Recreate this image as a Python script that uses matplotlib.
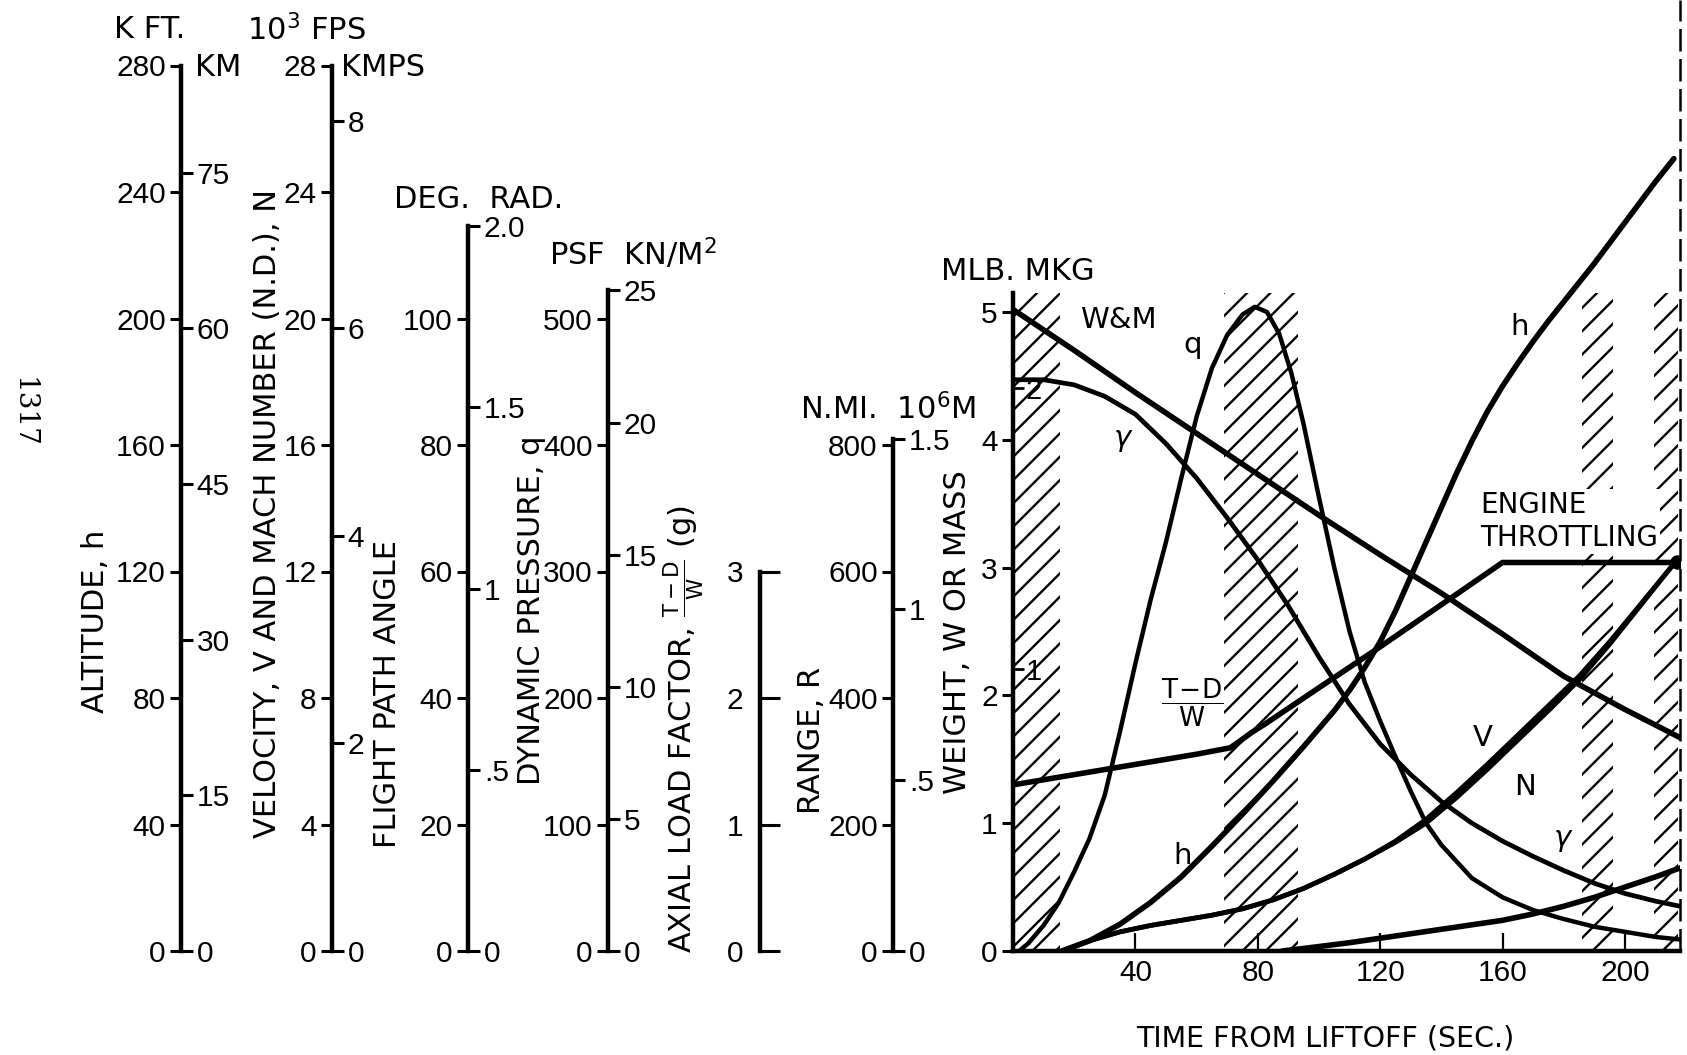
import matplotlib
matplotlib.use("Agg")
import matplotlib.pyplot as plt
import numpy as np

# values; the main plot uses the common "scale unit"
# (1 unit = 40 kft = 4 kfps = 20 deg = 100 psf = 1 g = 200 n.mi. = 1 Mlb)
time_w = [0, 20, 40, 60, 80, 100, 120, 140, 160, 180, 200, 218]
weight = [5.02, 4.70, 4.37, 4.05, 3.73, 3.41, 3.10, 2.80, 2.48, 2.15, 1.89, 1.67]

time_gamma = [0, 10, 20, 30, 40, 50, 60, 70, 80, 90, 100, 110, 120, 130, 140,
              150, 160, 170, 180, 190, 200, 210, 218]
gamma = [4.47, 4.47, 4.43, 4.34, 4.2, 3.97, 3.7, 3.39, 3.06, 2.7, 2.3, 1.93, 1.62,
         1.38, 1.17, 1.0, 0.86, 0.74, 0.63, 0.53, 0.45, 0.39, 0.35]

time_q = [2, 5, 10, 15, 20, 25, 30, 35, 40, 45, 50, 55, 60, 65, 70, 75, 79, 83, 87,
          91, 95, 100, 105, 110, 115, 120, 125, 130, 135, 140, 150, 160, 170, 180,
          190, 200, 210, 218]
q = [0, 0.06, 0.2, 0.38, 0.62, 0.88, 1.22, 1.72, 2.25, 2.75, 3.2, 3.7, 4.18, 4.56,
     4.82, 4.98, 5.04, 5.0, 4.83, 4.52, 4.12, 3.55, 3.0, 2.5, 2.1, 1.8, 1.52, 1.25,
     1.0, 0.83, 0.57, 0.42, 0.32, 0.25, 0.19, 0.15, 0.11, 0.09]

time_h = [16, 25, 35, 45, 55, 65, 75, 85, 95, 105, 110, 115, 120, 125, 130, 135,
          140, 145, 150, 155, 160, 165, 170, 175, 180, 185, 190, 195, 200, 205, 210, 216]
h = [0, 0.08, 0.21, 0.38, 0.58, 0.82, 1.07, 1.33, 1.6, 1.88, 2.04, 2.22, 2.42, 2.66,
     2.93, 3.2, 3.47, 3.74, 3.99, 4.22, 4.42, 4.6, 4.77, 4.93, 5.08, 5.23, 5.38,
     5.54, 5.70, 5.86, 6.02, 6.2]

time_v = [16, 25, 35, 45, 55, 65, 75, 85, 95, 105, 115, 125, 135, 145, 155, 165,
          175, 185, 195, 205, 217]
velocity = [0, 0.08, 0.15, 0.2, 0.24, 0.28, 0.33, 0.4, 0.49, 0.6, 0.72, 0.85, 1.0,
            1.2, 1.42, 1.65, 1.88, 2.12, 2.4, 2.7, 3.06]
mach = [0, 0.08, 0.15, 0.2, 0.24, 0.28, 0.33, 0.4, 0.49, 0.6, 0.72, 0.86, 1.03,
        1.24, 1.46, 1.69, 1.92, 2.15, 2.42, 2.71, 3.06]

time_r = [88, 95, 100, 110, 120, 130, 140, 150, 160, 170, 180, 190, 200, 210, 218]
range_r = [0, 0.02, 0.035, 0.065, 0.1, 0.135, 0.17, 0.205, 0.24, 0.29, 0.35, 0.42,
           0.5, 0.58, 0.65]

time_td = [0, 20, 40, 60, 71, 74, 78, 82, 100, 120, 140, 160, 217]
thrust_drag = [1.3, 1.38, 1.46, 1.54, 1.59, 1.64, 1.71, 1.77, 2.06, 2.38, 2.71, 3.04, 3.04]

hatch_start = [0, 69, 186, 209.5]
hatch_end = [15.5, 93, 196, 217.5]
hatch_top = 5.15

# sheet geometry in pixels; sizes below are given as points at 100 dpi
# and scaled by P, the figure is drawn at 140 dpi so the hatching is sparser
W_PX, H_PX = 1687, 1055
DPI = 140
P = 100 / DPI
BASE = 951
LEFT_PX_UNIT = 126.5
MAIN_PX_UNIT = 127.8

plt.rcParams['font.family'] = ['DejaVu Sans']
plt.rcParams['mathtext.fontset'] = 'dejavusans'
plt.rcParams['hatch.linewidth'] = 1.7 * P
plt.rcParams['hatch.color'] = 'black'
NUM_FONT = 'Liberation Sans'

fig = plt.figure(figsize=(W_PX / DPI, H_PX / DPI), dpi=DPI)


def fx(x):
    return x / W_PX


def fy(y):
    return 1 - y / H_PX


TICK = dict(direction='out', length=8 * P, width=2.2 * P, labelsize=21.5 * P, pad=3 * P)


def scale(xpix, unit, top, ticks, labels=None, funcs=None, sec_ticks=None,
          sec_labels=None, right_ticks=False):
    ax = fig.add_axes([fx(xpix), fy(BASE), 0.5 / W_PX, BASE / H_PX])
    ax.patch.set_visible(False)
    ax.set_xlim(0, 1)
    ax.set_ylim(0, BASE / LEFT_PX_UNIT * unit)
    ax.set_xticks([])
    for s in ('top', 'right', 'bottom'):
        ax.spines[s].set_visible(False)
    ax.spines['left'].set_bounds(0, top)
    ax.spines['left'].set_linewidth(3.2 * P)
    ax.set_yticks(ticks, labels=labels)
    ax.tick_params(axis='y', labelfontfamily=NUM_FONT, **TICK)
    if right_ticks:
        ax.tick_params(axis='y', left=False, right=True, labelleft=True,
                       labelright=False, length=14 * P, pad=-2 * P)
    if funcs is not None:
        sec = ax.secondary_yaxis('right', functions=funcs)
        sec.set_yticks(sec_ticks, labels=sec_labels)
        sec.tick_params(axis='y', labelfontfamily=NUM_FONT, **TICK)
        sec.spines['right'].set_visible(False)
    return ax


# altitude
scale(181, 40, 280, list(range(0, 281, 40)),
      funcs=(lambda x: x * 0.3048, lambda x: x / 0.3048),
      sec_ticks=[0, 15, 30, 45, 60, 75])
# velocity / mach number
scale(332, 4, 28, list(range(0, 29, 4)),
      funcs=(lambda x: x * 0.3048, lambda x: x / 0.3048),
      sec_ticks=[0, 2, 4, 6, 8])
# flight path angle
scale(468, 20, np.degrees(2.0), list(range(0, 101, 20)),
      funcs=(np.deg2rad, np.rad2deg),
      sec_ticks=[0, 0.5, 1, 1.5, 2.0], sec_labels=['0', '.5', '1', '1.5', '2.0'])
# dynamic pressure
scale(608, 100, 25 / 0.04788, list(range(0, 501, 100)),
      funcs=(lambda x: x * 0.04788, lambda x: x / 0.04788),
      sec_ticks=[0, 5, 10, 15, 20, 25])
# axial load factor
scale(760, 1, 3, [0, 1, 2, 3], right_ticks=True)
# range
scale(893, 200, 1.5e6 / 1852, [0, 200, 400, 600, 800],
      funcs=(lambda x: x * 0.001852, lambda x: x / 0.001852),
      sec_ticks=[0, 0.5, 1, 1.5], sec_labels=['0', '.5', '1', '1.5'])

# ---- main time history plot ----
ax = fig.add_axes([fx(1013), fy(BASE), (1680 - 1013) / W_PX, BASE / H_PX])
ax.patch.set_visible(False)
ax.set_xlim(0, 218)
ax.set_ylim(0, BASE / MAIN_PX_UNIT)
for s in ('top', 'right'):
    ax.spines[s].set_visible(False)
ax.spines['left'].set_bounds(0, hatch_top)
ax.spines['left'].set_linewidth(3.2 * P)
ax.spines['bottom'].set_linewidth(3.2 * P)
ax.set_xticks([40, 80, 120, 160, 200])
ax.set_yticks([0, 1, 2, 3, 4, 5])
ax.tick_params(axis='x', direction='in', length=13 * P, width=1.6 * P,
               labelsize=21.5 * P, pad=6 * P, labelfontfamily=NUM_FONT)
ax.tick_params(axis='y', labelfontfamily=NUM_FONT, **TICK)
ax.axvline(218, color='black', lw=1.8 * P, ls=(0, (9, 3)), clip_on=False)

mkg = ax.secondary_yaxis(0, functions=(lambda x: x / 2.2046, lambda x: x * 2.2046))
mkg.set_alignment('right')
mkg.set_yticks([1, 2])
mkg.tick_params(axis='y', direction='out', length=8 * P, width=2 * P,
                labelsize=21 * P, pad=1 * P, labelfontfamily=NUM_FONT)
mkg.spines['right'].set_visible(False)

for t0, t1 in zip(hatch_start, hatch_end):
    ax.fill_between([t0, t1], 0, hatch_top, facecolor='none', edgecolor='black',
                    hatch='//', linewidth=0, zorder=1)

kw = dict(color='black', zorder=5, solid_capstyle='round')
ax.plot(time_w, weight, lw=4.0 * P, **kw)
ax.plot(time_gamma, gamma, lw=3.4 * P, **kw)
ax.plot(time_q, q, lw=3.2 * P, **kw)
ax.plot(time_h, h, lw=4.0 * P, **kw)
ax.plot(time_v, velocity, lw=3.4 * P, **kw)
ax.plot(time_v, mach, lw=3.4 * P, **kw)
ax.plot(time_r, range_r, lw=4.0 * P, **kw)
ax.plot(time_td, thrust_drag, lw=4.0 * P, **kw)
ax.plot(time_td[-1:], thrust_drag[-1:], 'o', color='black', ms=9 * P, zorder=6)

lab = dict(fontsize=21 * P, ha='center', va='center', zorder=6)
ax.text(34.3, 4.94, 'W&M', **lab)
ax.text(58.8, 4.74, 'q', **lab)
ax.text(35.9, 4.0, r'$\gamma$', **lab)
ax.text(55.6, 0.74, 'h', **lab)
ax.text(58.5, 1.94, r'$\dfrac{\mathrm{T}\!-\!\mathrm{D}}{\mathrm{W}}$', fontsize=19 * P,
        ha='center', va='center', zorder=6)
ax.text(165.7, 4.88, 'h', **lab)
ax.text(153.6, 1.67, 'V', **lab)
ax.text(167.3, 1.28, 'N', **lab)
ax.text(179.7, 0.87, r'$\gamma$', **lab)
ax.text(152.6, 3.36, 'ENGINE\nTHROTTLING', fontsize=20 * P, ha='left', va='center',
        linespacing=1.25, zorder=4,
        bbox=dict(facecolor='white', edgecolor='none', pad=1))

# ---- unit headers and axis titles ----
hd = dict(fontsize=22 * P, ha='center', va='center')
fig.text(fx(150), fy(30), 'K FT.', **hd)
fig.text(fx(218), fy(68), 'KM', **hd)
fig.text(fx(306), fy(30), r'10$^3$ FPS', **hd)
fig.text(fx(383), fy(68), 'KMPS', **hd)
fig.text(fx(479), fy(199), 'DEG.  RAD.', **hd)
fig.text(fx(633), fy(254), r'PSF  KN/M$^2$', **hd)
fig.text(fx(888), fy(409), r'N.MI.  10$^6$M', **hd)
fig.text(fx(1018), fy(271), 'MLB. MKG', **hd)

vl = dict(fontsize=22 * P, rotation=90, ha='center', va='center')
fig.text(fx(95), fy(621), 'ALTITUDE, h', **vl)
fig.text(fx(267), fy(514), 'VELOCITY, V AND MACH NUMBER (N.D.), N', **vl)
fig.text(fx(387), fy(694), 'FLIGHT PATH ANGLE', **vl)
fig.text(fx(532), fy(610), 'DYNAMIC PRESSURE, q', **vl)
fig.text(fx(684), fy(729), r'AXIAL LOAD FACTOR, $\frac{\mathrm{T-D}}{\mathrm{W}}$ (g)',
         **vl)
fig.text(fx(812), fy(740), 'RANGE, R', **vl)
fig.text(fx(957), fy(632), 'WEIGHT, W OR MASS', **vl)
fig.text(fx(1325), fy(1038), 'TIME FROM LIFTOFF (SEC.)', fontsize=20.5 * P,
         ha='center', va='center')
fig.text(fx(23), fy(412), '1317', rotation=-90, fontsize=20 * P, family='DejaVu Serif',
         ha='center', va='center')

fig.savefig('out.png', dpi=DPI)
